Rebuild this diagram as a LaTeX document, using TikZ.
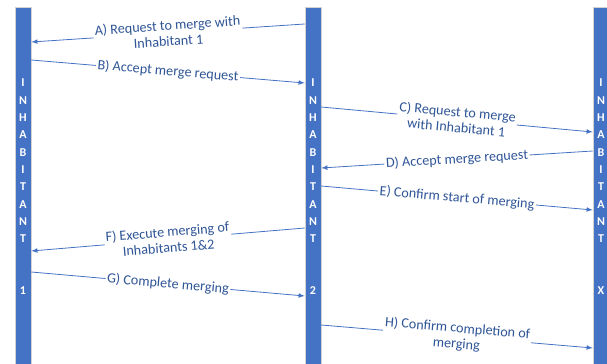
\documentclass[tikz,border=0pt]{standalone}
\usepackage{fontspec}
\setmainfont{Carlito}
\usetikzlibrary{positioning}
\definecolor{barblue}{HTML}{4472C4}
\definecolor{textblue}{HTML}{2F5597}
\tikzset{
	lifeline/.style={draw=gray!35, fill=barblue, minimum width=12pt, minimum height=274pt, inner sep=0pt, anchor=north},
	letters/.style={text=white, font=\bfseries\fontsize{9}{13}\selectfont, align=center, inner sep=0pt},
	msg/.style={draw=barblue, line width=0.6pt, -latex},
	lbl/.style={sloped, fill=white, text=textblue, font=\fontsize{10.6}{11.8}\selectfont, align=center, inner sep=1.2pt}
}
\begin{document}
\begin{tikzpicture}[x=0.75pt, y=-0.75pt]
			\useasboundingbox (0,0) rectangle (607,364);
			% lifelines
			\node[lifeline] (inh1) at (23,7) {};
			\node[lifeline] (inh2) at (313,7) {};
			\node[lifeline] (inhx) at (601,7) {};
			\node[letters] (name1) at (23,187) {I\\N\\H\\A\\B\\I\\T\\A\\N\\T\\~\\~\\1};
			\node[letters] (name2) at (313,187) {I\\N\\H\\A\\B\\I\\T\\A\\N\\T\\~\\~\\2};
			\node[letters] (namex) at (601,187) {I\\N\\H\\A\\B\\I\\T\\A\\N\\T\\~\\~\\X};
			% messages
			\draw[msg] (inh2.west |- 0,24) -- node[lbl] {A) Request to merge with\\Inhabitant 1} (inh1.east |- 0,42);
			\draw[msg] (inh1.east |- 0,60) -- node[lbl] {B) Accept merge request} (inh2.west |- 0,83);
			\draw[msg] (inh2.east |- 0,107) -- node[lbl] {C) Request to merge\\with Inhabitant 1} (inhx.west |- 0,132);
			\draw[msg] (inhx.west |- 0,151) -- node[lbl] {D) Accept merge request} (inh2.east |- 0,168);
			\draw[msg] (inh2.east |- 0,186) -- node[lbl] {E) Confirm start of merging} (inhx.west |- 0,210);
			\draw[msg] (inh2.west |- 0,228) -- node[lbl] {F) Execute merging of\\Inhabitants 1\&2} (inh1.east |- 0,251);
			\draw[msg] (inh1.east |- 0,272) -- node[lbl] {G) Complete merging} (inh2.west |- 0,296);
			\draw[msg] (inh2.east |- 0,325) -- node[lbl] {H) Confirm completion of\\merging} (inhx.west |- 0,348);
\end{tikzpicture}
\end{document}
